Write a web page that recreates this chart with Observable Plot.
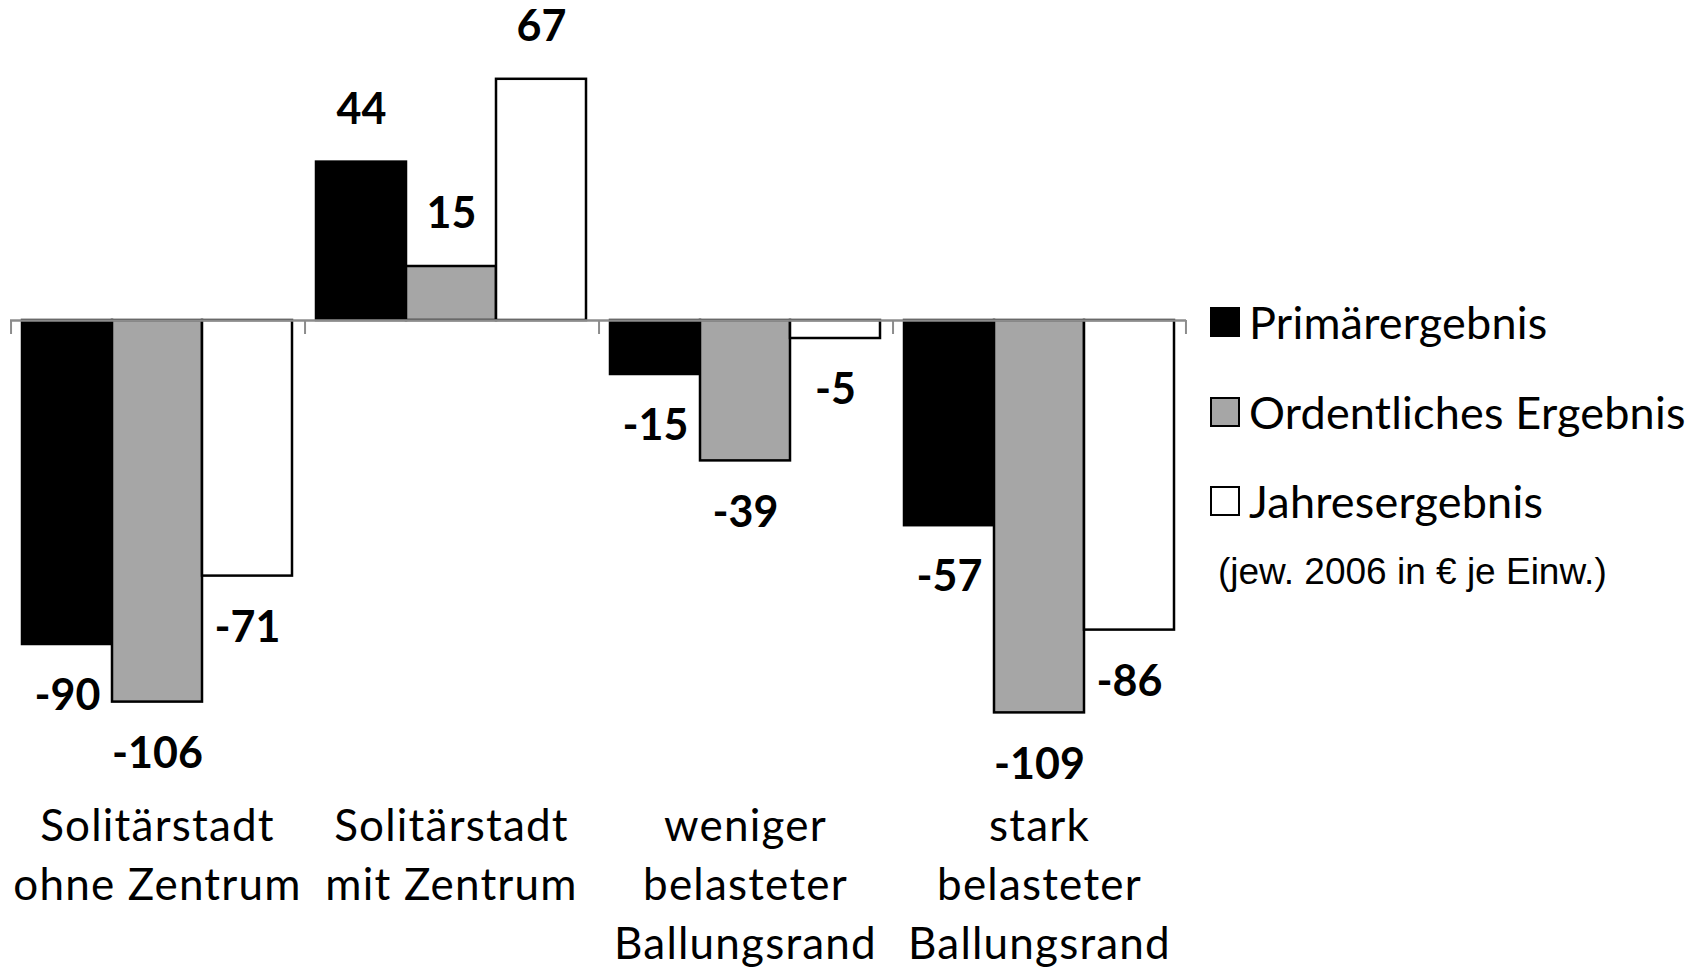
<!DOCTYPE html>
<html><head><meta charset="utf-8">
<script src="https://cdn.jsdelivr.net/npm/d3@7"></script>
<script src="https://cdn.jsdelivr.net/npm/@observablehq/plot@0.6"></script>
<style>
body{margin:0;background:#fff;}
#wrap{position:relative;width:1689px;height:969px;overflow:hidden;}
.leg{position:absolute;left:1210px;height:50px;font-family:Lato,"Open Sans",sans-serif;font-size:45px;letter-spacing:0.2px;color:#000;display:flex;align-items:center;white-space:nowrap;}
.sw{width:30px;height:30px;border:2px solid #000;box-sizing:border-box;margin-right:9px;flex:none;}
.cap{position:absolute;left:1218px;top:551px;font-family:"Liberation Sans",Arial,sans-serif;font-size:37px;color:#000;white-space:nowrap;}
g[aria-label="fx-axis tick label"] text{letter-spacing:1.2px;}
</style></head>
<body><div id="wrap"></div>
<script>
const categories = ["Solitärstadt\nohne Zentrum", "Solitärstadt\nmit Zentrum", "weniger\nbelasteter\nBallungsrand", "stark\nbelasteter\nBallungsrand"];
const series = ["Primärergebnis", "Ordentliches Ergebnis", "Jahresergebnis"];
const primaer = [-90, 44, -15, -57];
const ordentlich = [-106, 15, -39, -109];
const jahres = [-71, 67, -5, -86];
const colors = ["#000000", "#a6a6a6", "#ffffff"];
const caption = "(jew. 2006 in € je Einw.)";

const values = [primaer, ordentlich, jahres];
const data = [];
categories.forEach((c, i) => series.forEach((s, j) => data.push({category: c, series: s, value: values[j][i]})));

const W = 1689, H = 969, mL = 8, mR = 502;
const facetW = (W - mL - mR) / categories.length;
const padOuter = 0.121;
const barW = facetW / (series.length + 2 * padOuter);
const edgeDx = barW / 2 + padOuter * barW;

const font = "Lato, 'Open Sans', sans-serif";
const chart = Plot.plot({
  width: W, height: H,
  marginLeft: mL, marginRight: mR, marginTop: 50, marginBottom: 217,
  style: {fontFamily: font, background: "white"},
  fx: {domain: categories, padding: 0},
  x: {domain: series, paddingInner: 0, paddingOuter: padOuter, axis: null},
  y: {domain: [-120, 75], axis: null},
  color: {domain: series, range: colors},
  marks: [
    Plot.barY(data, {fx: "category", x: "series", y: "value", fill: "series", stroke: "#000", strokeWidth: 2.5}),
    Plot.ruleY([0], {stroke: "#8c8c8c", strokeWidth: 2.5}),
    Plot.ruleX(categories, {fx: d => d, x: () => series[0], y1: 0, y2: 0, insetBottom: -14, dx: -edgeDx, stroke: "#8c8c8c", strokeWidth: 2}),
    Plot.ruleX(categories.slice(-1), {fx: d => d, x: () => series[series.length - 1], y1: 0, y2: 0, insetBottom: -14, dx: edgeDx, stroke: "#8c8c8c", strokeWidth: 2}),
    Plot.text(data.filter(d => d.value >= 0), {fx: "category", x: "series", y: "value", text: d => String(d.value), dy: -52, fontSize: 43, fontWeight: "bold", fill: "#000"}),
    Plot.text(data.filter(d => d.value < 0), {fx: "category", x: "series", y: "value", text: d => String(d.value), dy: 52, fontSize: 43, fontWeight: "bold", fill: "#000"}),
    Plot.axisFx({anchor: "bottom", tickSize: 0, tickPadding: 47, label: null, fontSize: 44, lineHeight: 1.34, fill: "#000"})
  ]
});

const wrap = document.getElementById("wrap");
wrap.appendChild(chart);
const centers = [322, 412, 501];
series.forEach((s, j) => {
  const row = document.createElement("div");
  row.className = "leg";
  row.style.top = (centers[j] - 25) + "px";
  const sw = document.createElement("div");
  sw.className = "sw";
  sw.style.background = colors[j];
  const t = document.createElement("span");
  t.textContent = s;
  row.appendChild(sw); row.appendChild(t);
  wrap.appendChild(row);
});
const cap = document.createElement("div");
cap.className = "cap";
cap.textContent = caption;
wrap.appendChild(cap);
</script>
</body></html>
